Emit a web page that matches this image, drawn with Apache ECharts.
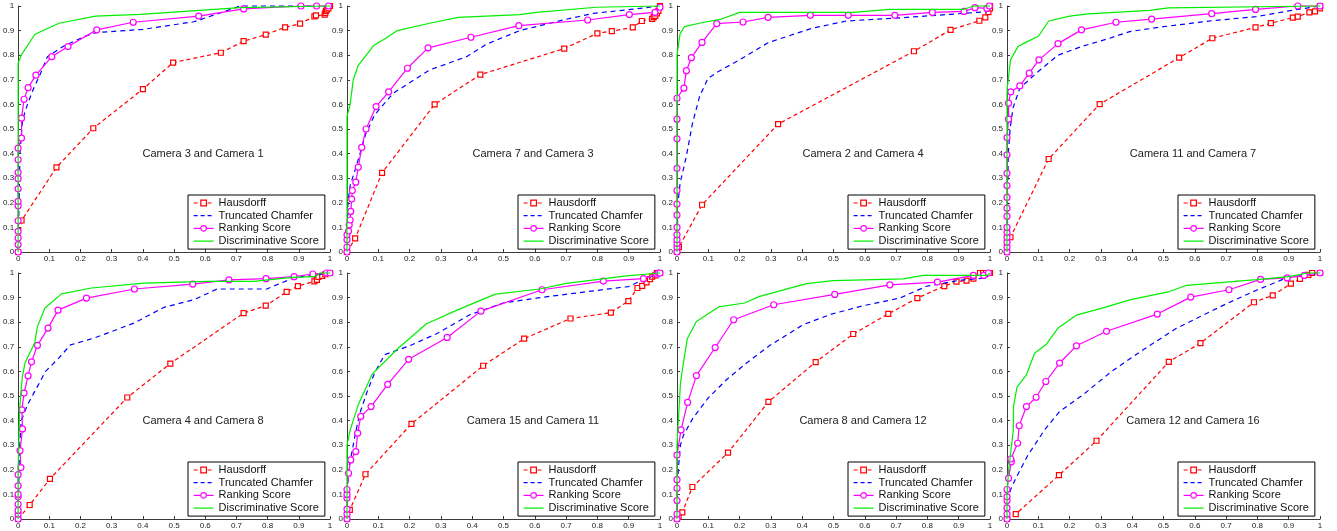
<!DOCTYPE html>
<html><head><meta charset="utf-8">
<script src="https://cdn.jsdelivr.net/npm/echarts@6/dist/echarts.min.js"></script>
<style>html,body{margin:0;padding:0;background:#fff}#c{width:1337px;height:531px}</style>
</head><body><div id="c"></div>
<script>
const seriesNames = ['Hausdorff','Truncated Chamfer','Ranking Score','Discriminative Score'];
const titles = ['Camera 3 and Camera 1','Camera 7 and Camera 3','Camera 2 and Camera 4','Camera 11 and Camera 7',
  'Camera 4 and Camera 8','Camera 15 and Camera 11','Camera 8 and Camera 12','Camera 12 and Camera 16'];
const tickInterval = 0.1;

const haus1 = [[0,0],[0.011,0.128],[0.123,0.344],[0.241,0.503],[0.40,0.662],[0.497,0.77],[0.65,0.81],[0.723,0.857],[0.794,0.884],[0.856,0.913],[0.904,0.928],[0.95,0.958],[0.955,0.962],[0.983,0.965],[0.985,0.972],[0.987,0.98],[0.99,0.985],[0.995,0.99],[1,1]];
const cham1 = [[0,0],[0.003,0.2],[0.006,0.4],[0.014,0.537],[0.03,0.6],[0.05,0.666],[0.07,0.72],[0.094,0.794],[0.15,0.84],[0.211,0.875],[0.25,0.892],[0.4,0.905],[0.563,0.936],[0.637,0.967],[0.712,1.0],[1,1]];
const rank1 = [[0,0],[0,0.03],[0,0.057],[0,0.084],[0,0.127],[0,0.188],[0,0.206],[0,0.257],[0,0.298],[0,0.323],[0,0.375],[0,0.422],[0.011,0.463],[0.011,0.544],[0.019,0.621],[0.032,0.668],[0.057,0.719],[0.108,0.794],[0.16,0.835],[0.252,0.903],[0.369,0.934],[0.579,0.959],[0.723,0.988],[0.907,1],[0.957,1],[0.995,1]];
const disc1 = [[0,0],[0,0.767],[0.01,0.8],[0.054,0.885],[0.131,0.93],[0.248,0.959],[0.392,0.966],[0.712,0.993],[1,1]];

const haus2 = [[0,0],[0.026,0.055],[0.112,0.322],[0.28,0.6],[0.426,0.721],[0.694,0.827],[0.8,0.889],[0.846,0.898],[0.913,0.913],[0.942,0.939],[0.975,0.948],[0.98,0.955],[0.985,0.96],[0.99,0.97],[0.995,0.98],[1,1]];
const cham2 = [[0,0],[0.003,0.2],[0.01,0.27],[0.03,0.35],[0.06,0.48],[0.088,0.557],[0.147,0.645],[0.264,0.74],[0.382,0.794],[0.446,0.845],[0.552,0.9],[0.69,0.943],[0.787,0.97],[0.92,0.988],[1,1]];
const rank2 = [[0,0],[0,0.02],[0,0.05],[0,0.07],[0.005,0.085],[0.007,0.11],[0.01,0.13],[0.012,0.165],[0.015,0.215],[0.017,0.25],[0.028,0.284],[0.036,0.345],[0.047,0.425],[0.061,0.5],[0.093,0.591],[0.133,0.651],[0.193,0.747],[0.259,0.83],[0.396,0.873],[0.549,0.92],[0.769,0.943],[0.902,0.965],[0.984,0.974],[1,0.995]];
const disc2 = [[0,0],[0,0.55],[0.01,0.6],[0.02,0.7],[0.036,0.759],[0.085,0.839],[0.12,0.866],[0.161,0.9],[0.264,0.93],[0.355,0.954],[0.552,0.965],[0.605,0.974],[0.797,0.995],[1,1]];

const haus3 = [[0,0],[0.006,0.02],[0.08,0.192],[0.323,0.52],[0.757,0.816],[0.874,0.903],[0.966,0.94],[0.985,0.954],[0.995,0.975],[1,0.99],[1,1]];
const cham3 = [[0,0],[0.003,0.2],[0.01,0.28],[0.03,0.39],[0.049,0.52],[0.072,0.632],[0.099,0.706],[0.131,0.733],[0.2,0.781],[0.291,0.851],[0.43,0.909],[0.541,0.939],[0.69,0.95],[0.872,0.966],[0.99,0.977],[1,1]];
const rank3 = [[0,0],[0,0.02],[0,0.035],[0,0.05],[0,0.07],[0,0.1],[0,0.15],[0,0.195],[0,0.25],[0,0.34],[0,0.46],[0,0.54],[0,0.625],[0.022,0.666],[0.03,0.737],[0.046,0.79],[0.08,0.852],[0.127,0.928],[0.211,0.935],[0.291,0.954],[0.426,0.962],[0.547,0.962],[0.696,0.962],[0.816,0.974],[0.917,0.978],[0.952,0.993],[0.99,0.99],[0.998,1]];
const disc3 = [[0,0],[0,0.8],[0.01,0.889],[0.024,0.916],[0.078,0.932],[0.142,0.947],[0.2,0.974],[0.563,0.974],[0.68,0.986],[0.915,0.986],[0.947,1],[1,1]];

const haus4 = [[0,0],[0.011,0.06],[0.133,0.378],[0.296,0.601],[0.55,0.79],[0.656,0.869],[0.794,0.913],[0.843,0.93],[0.913,0.953],[0.929,0.957],[0.966,0.974],[0.984,0.978],[1,0.99],[1,1]];
const cham4 = [[0,0],[0.004,0.4],[0.01,0.5],[0.019,0.585],[0.041,0.666],[0.099,0.733],[0.163,0.8],[0.238,0.835],[0.328,0.869],[0.392,0.896],[0.5,0.916],[0.654,0.94],[0.797,0.957],[0.9,0.98],[1,1]];
const rank4 = [[0,0],[0,0.02],[0,0.04],[0,0.06],[0,0.08],[0,0.1],[0,0.145],[0,0.178],[0,0.222],[0,0.27],[0,0.32],[0,0.395],[0,0.465],[0.005,0.54],[0.005,0.605],[0.012,0.651],[0.041,0.675],[0.071,0.727],[0.102,0.781],[0.163,0.847],[0.238,0.903],[0.348,0.934],[0.462,0.947],[0.654,0.969],[0.794,0.986],[0.929,1],[1,1]];
const disc4 = [[0,0],[0,0.655],[0.003,0.69],[0.011,0.78],[0.035,0.835],[0.057,0.85],[0.101,0.878],[0.133,0.939],[0.2,0.959],[0.259,0.968],[0.456,0.982],[0.515,0.992],[1,1]];

const haus5 = [[0,0],[0.037,0.057],[0.102,0.163],[0.35,0.494],[0.488,0.632],[0.723,0.837],[0.794,0.867],[0.861,0.923],[0.897,0.947],[0.95,0.966],[0.958,0.972],[0.963,0.984],[0.975,0.988],[0.985,0.995],[1,1]];
const cham5 = [[0,0],[0.004,0.28],[0.01,0.4],[0.03,0.464],[0.062,0.539],[0.088,0.6],[0.131,0.655],[0.168,0.708],[0.243,0.735],[0.371,0.796],[0.467,0.86],[0.563,0.891],[0.638,0.935],[0.797,0.935],[0.883,0.98],[1,1]];
const rank5 = [[0,0],[0,0.02],[0,0.035],[0,0.06],[0,0.09],[0,0.1],[0,0.135],[0,0.18],[0.009,0.209],[0.006,0.278],[0.014,0.366],[0.012,0.444],[0.019,0.512],[0.032,0.582],[0.043,0.639],[0.062,0.706],[0.096,0.776],[0.128,0.849],[0.219,0.898],[0.373,0.935],[0.56,0.955],[0.676,0.972],[0.795,0.977],[0.885,0.985],[0.945,0.996],[0.989,1],[1,1]];
const disc5 = [[0,0],[0,0.2],[0.005,0.45],[0.013,0.573],[0.022,0.634],[0.053,0.715],[0.062,0.783],[0.086,0.858],[0.139,0.915],[0.235,0.939],[0.403,0.959],[0.611,0.966],[0.755,0.966],[0.88,0.982],[0.95,0.985],[0.97,1],[1,1]];

const haus6 = [[0,0],[0.009,0.037],[0.059,0.182],[0.206,0.387],[0.435,0.623],[0.566,0.733],[0.714,0.815],[0.843,0.839],[0.899,0.886],[0.928,0.939],[0.943,0.948],[0.957,0.962],[0.968,0.975],[0.975,0.985],[0.985,0.99],[0.99,1],[1,1]];
const cham6 = [[0,0],[0.004,0.2],[0.012,0.247],[0.028,0.355],[0.041,0.43],[0.065,0.52],[0.088,0.593],[0.12,0.668],[0.2,0.704],[0.286,0.753],[0.392,0.83],[0.499,0.878],[0.605,0.898],[0.872,0.941],[0.9,0.945],[0.95,0.975],[1,1]];
const rank6 = [[0,0],[0,0.02],[0,0.04],[0,0.085],[0,0.1],[0,0.12],[0.005,0.186],[0.012,0.24],[0.028,0.274],[0.034,0.349],[0.044,0.417],[0.077,0.457],[0.13,0.547],[0.197,0.649],[0.32,0.738],[0.428,0.845],[0.623,0.932],[0.819,0.967],[0.947,0.977],[0.99,0.995],[0.995,1],[1,1]];
const disc6 = [[0,0],[0,0.3],[0.01,0.36],[0.035,0.461],[0.081,0.59],[0.16,0.69],[0.254,0.794],[0.355,0.851],[0.474,0.914],[0.616,0.935],[0.701,0.958],[0.893,0.988],[1,1]];

const haus7 = [[0,0],[0.005,0.01],[0.017,0.027],[0.049,0.13],[0.163,0.27],[0.292,0.476],[0.443,0.638],[0.563,0.752],[0.675,0.834],[0.768,0.898],[0.854,0.947],[0.893,0.965],[0.925,0.969],[0.947,0.977],[0.968,1],[0.978,1],[0.987,1],[1,1]];
const cham7 = [[0,0],[0.004,0.2],[0.011,0.3],[0.021,0.342],[0.051,0.41],[0.099,0.491],[0.158,0.566],[0.222,0.634],[0.296,0.705],[0.403,0.79],[0.494,0.833],[0.595,0.867],[0.712,0.898],[0.797,0.946],[0.9,0.97],[0.99,0.98],[1,1]];
const rank7 = [[0,0],[0,0.02],[0,0.075],[0,0.125],[0,0.16],[0,0.26],[0.013,0.362],[0.034,0.474],[0.062,0.583],[0.122,0.697],[0.181,0.81],[0.309,0.871],[0.504,0.913],[0.68,0.952],[0.832,0.963],[0.947,0.99],[0.98,0.99],[0.995,1]];
const disc7 = [[0,0],[0,0.3],[0.011,0.552],[0.02,0.63],[0.033,0.733],[0.062,0.803],[0.133,0.862],[0.216,0.878],[0.264,0.905],[0.414,0.957],[0.499,0.969],[0.723,0.976],[0.787,0.99],[0.99,0.99],[1,1]];

const haus8 = [[0,0],[0.028,0.02],[0.166,0.178],[0.286,0.318],[0.517,0.639],[0.618,0.715],[0.789,0.881],[0.849,0.909],[0.907,0.957],[0.936,0.976],[0.963,0.992],[0.975,1],[1,1]];
const cham8 = [[0,0],[0.004,0.05],[0.011,0.118],[0.03,0.17],[0.067,0.26],[0.12,0.362],[0.168,0.437],[0.243,0.505],[0.334,0.6],[0.435,0.688],[0.541,0.775],[0.701,0.875],[0.797,0.93],[0.893,0.98],[1,1]];
const rank8 = [[0,0],[0,0.02],[0,0.045],[0,0.075],[0,0.09],[0,0.12],[0.005,0.166],[0.014,0.233],[0.012,0.244],[0.034,0.308],[0.039,0.379],[0.062,0.457],[0.093,0.495],[0.124,0.559],[0.168,0.634],[0.222,0.704],[0.318,0.763],[0.48,0.833],[0.587,0.902],[0.709,0.932],[0.81,0.974],[0.895,0.98],[0.95,0.99],[1,1]];
const disc8 = [[0,0],[0,0.1],[0.005,0.2],[0.01,0.25],[0.02,0.36],[0.021,0.46],[0.032,0.536],[0.062,0.586],[0.088,0.674],[0.124,0.708],[0.163,0.776],[0.224,0.83],[0.307,0.858],[0.392,0.891],[0.515,0.923],[0.574,0.95],[0.797,0.973],[0.9,0.985],[0.96,1],[1,1]];

const panels = [
  [haus1,cham1,rank1,disc1],[haus2,cham2,rank2,disc2],[haus3,cham3,rank3,disc3],[haus4,cham4,rank4,disc4],
  [haus5,cham5,rank5,disc5],[haus6,cham6,rank6,disc6],[haus7,cham7,rank7,disc7],[haus8,cham8,rank8,disc8]
];

const FONT = 'Liberation Sans, Arial, Helvetica, sans-serif';
const RED = '#ff0000', BLUE = '#0000ff', MAG = '#ff00ff', GREEN = '#00ee00';
const CLEAR = 'rgba(0,0,0,0)';
const styles = [
  {symbol: 'rect', symbolSize: 5, itemStyle: {color: '#fff', borderColor: RED, borderWidth: 1.2}, lineStyle: {color: RED, width: 1.2, type: [4, 3]}},
  {symbol: 'none', itemStyle: {color: BLUE}, lineStyle: {color: BLUE, width: 1.2, type: [5, 4]}},
  {symbol: 'circle', symbolSize: 6, itemStyle: {color: '#fff', borderColor: MAG, borderWidth: 1.2}, lineStyle: {color: MAG, width: 1.2}},
  {symbol: 'none', itemStyle: {color: GREEN}, lineStyle: {color: GREEN, width: 1.2}}
];
const legendItemStyles = [
  {itemStyle: {color: '#fff', borderColor: RED, borderWidth: 1.2}, lineStyle: {color: RED, width: 1.2, type: [4, 3]}},
  {itemStyle: {color: CLEAR, borderColor: CLEAR, borderWidth: 0}, lineStyle: {color: BLUE, width: 1.2, type: [4, 3]}},
  {itemStyle: {color: '#fff', borderColor: MAG, borderWidth: 1.2}, lineStyle: {color: MAG, width: 1.2}},
  {itemStyle: {color: CLEAR, borderColor: CLEAR, borderWidth: 0}, lineStyle: {color: GREEN, width: 1.2}}
];

const grids = [], xAxes = [], yAxes = [], series = [], legends = [], graphics = [];
panels.forEach((p, i) => {
  const c = i % 4, r = Math.floor(i / 4);
  const gl = 17 + 330 * c, gt = 6 + 267 * r;
  grids.push({left: gl, top: gt, width: 313, height: 246, containLabel: false});
  const axisCommon = {
    type: 'value', min: 0, max: 1, interval: tickInterval, gridIndex: i,
    axisLine: {show: true, lineStyle: {color: '#3a3a3a', width: 1}},
    axisTick: {show: true, inside: true, length: 3, lineStyle: {color: '#3a3a3a'}},
    splitLine: {show: false},
    axisLabel: {fontSize: 8, color: '#222', fontFamily: FONT, showMinLabel: true, showMaxLabel: true}
  };
  xAxes.push(Object.assign({}, axisCommon, {axisLabel: Object.assign({}, axisCommon.axisLabel, {margin: 3})}));
  yAxes.push(Object.assign({}, axisCommon, {axisLabel: Object.assign({}, axisCommon.axisLabel, {margin: 4})}));
  p.forEach((d, k) => {
    series.push(Object.assign({
      type: 'line', name: seriesNames[k], xAxisIndex: i, yAxisIndex: i, data: d,
      showSymbol: k === 0 || k === 2, clip: false, animation: false, silent: true, z: 2 + k
    }, styles[k]));
  });
  legends.push({
    data: seriesNames.map((n, k) => Object.assign({name: n}, legendItemStyles[k])),
    orient: 'vertical', left: gl + 171, top: gt + 189,
    itemWidth: 20, itemHeight: 7, itemGap: 0.7, padding: [2, 6, 2, 5],
    backgroundColor: '#fff', borderColor: '#000', borderWidth: 1, borderRadius: 0,
    selectedMode: false, z: 10,
    textStyle: {fontSize: 11, fontFamily: FONT, color: '#111', lineHeight: 12}
  });
  graphics.push({
    type: 'text', x: gl + 186, y: gt + 148, z: 5,
    style: {text: titles[i], fontSize: 11, fontFamily: FONT, fill: '#222', align: 'center', verticalAlign: 'middle'}
  });
});

const chart = echarts.init(document.getElementById('c'), null, {renderer: 'canvas'});
chart.setOption({
  animation: false, backgroundColor: '#fff',
  grid: grids, xAxis: xAxes, yAxis: yAxes, series: series, legend: legends, graphic: graphics
});
</script></body></html>
